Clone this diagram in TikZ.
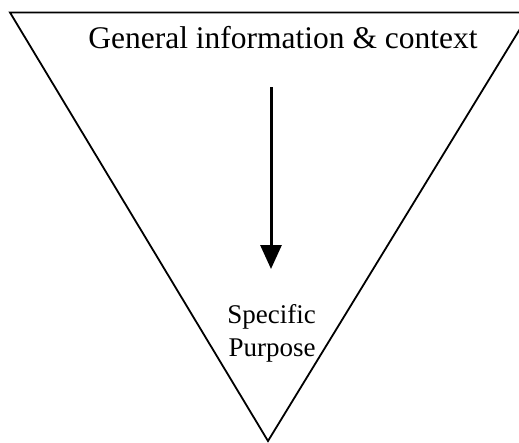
\documentclass[tikz,border=0pt]{standalone}
\usepackage{fontspec}
\setmainfont{Liberation Serif}
\usetikzlibrary{arrows.meta}
\begin{document}
\begin{tikzpicture}[x=1pt,y=-1pt,
  edge/.style={line width=1.8pt,line join=miter},
  bigarrow/.style={line width=3pt,-{Triangle[length=24pt,width=21pt]}},
  lbl/.style={anchor=base,inner sep=0pt}]
\useasboundingbox (0,0) rectangle (519,442);
\begin{scope}
\clip (0,0) rectangle (519,442);
\coordinate (tl) at (10,12.5);
\coordinate (ap) at (268,441);
\coordinate (tr) at (530,12.5);
\draw[edge] (tr) -- (tl) -- (ap) -- (tr);
\end{scope}
\node[lbl,font=\fontsize{31.5}{36}\selectfont] (gen) at (283,48) {General information \& context};
\coordinate (a) at (271,87);
\coordinate (b) at (271,269);
\draw[bigarrow] (a) -- (b);
\node[lbl,font=\fontsize{27}{32}\selectfont] (spec) at (271.5,323) {Specific};
\node[lbl,font=\fontsize{27}{32}\selectfont] (purp) at (272,356) {Purpose};
\end{tikzpicture}
\end{document}
